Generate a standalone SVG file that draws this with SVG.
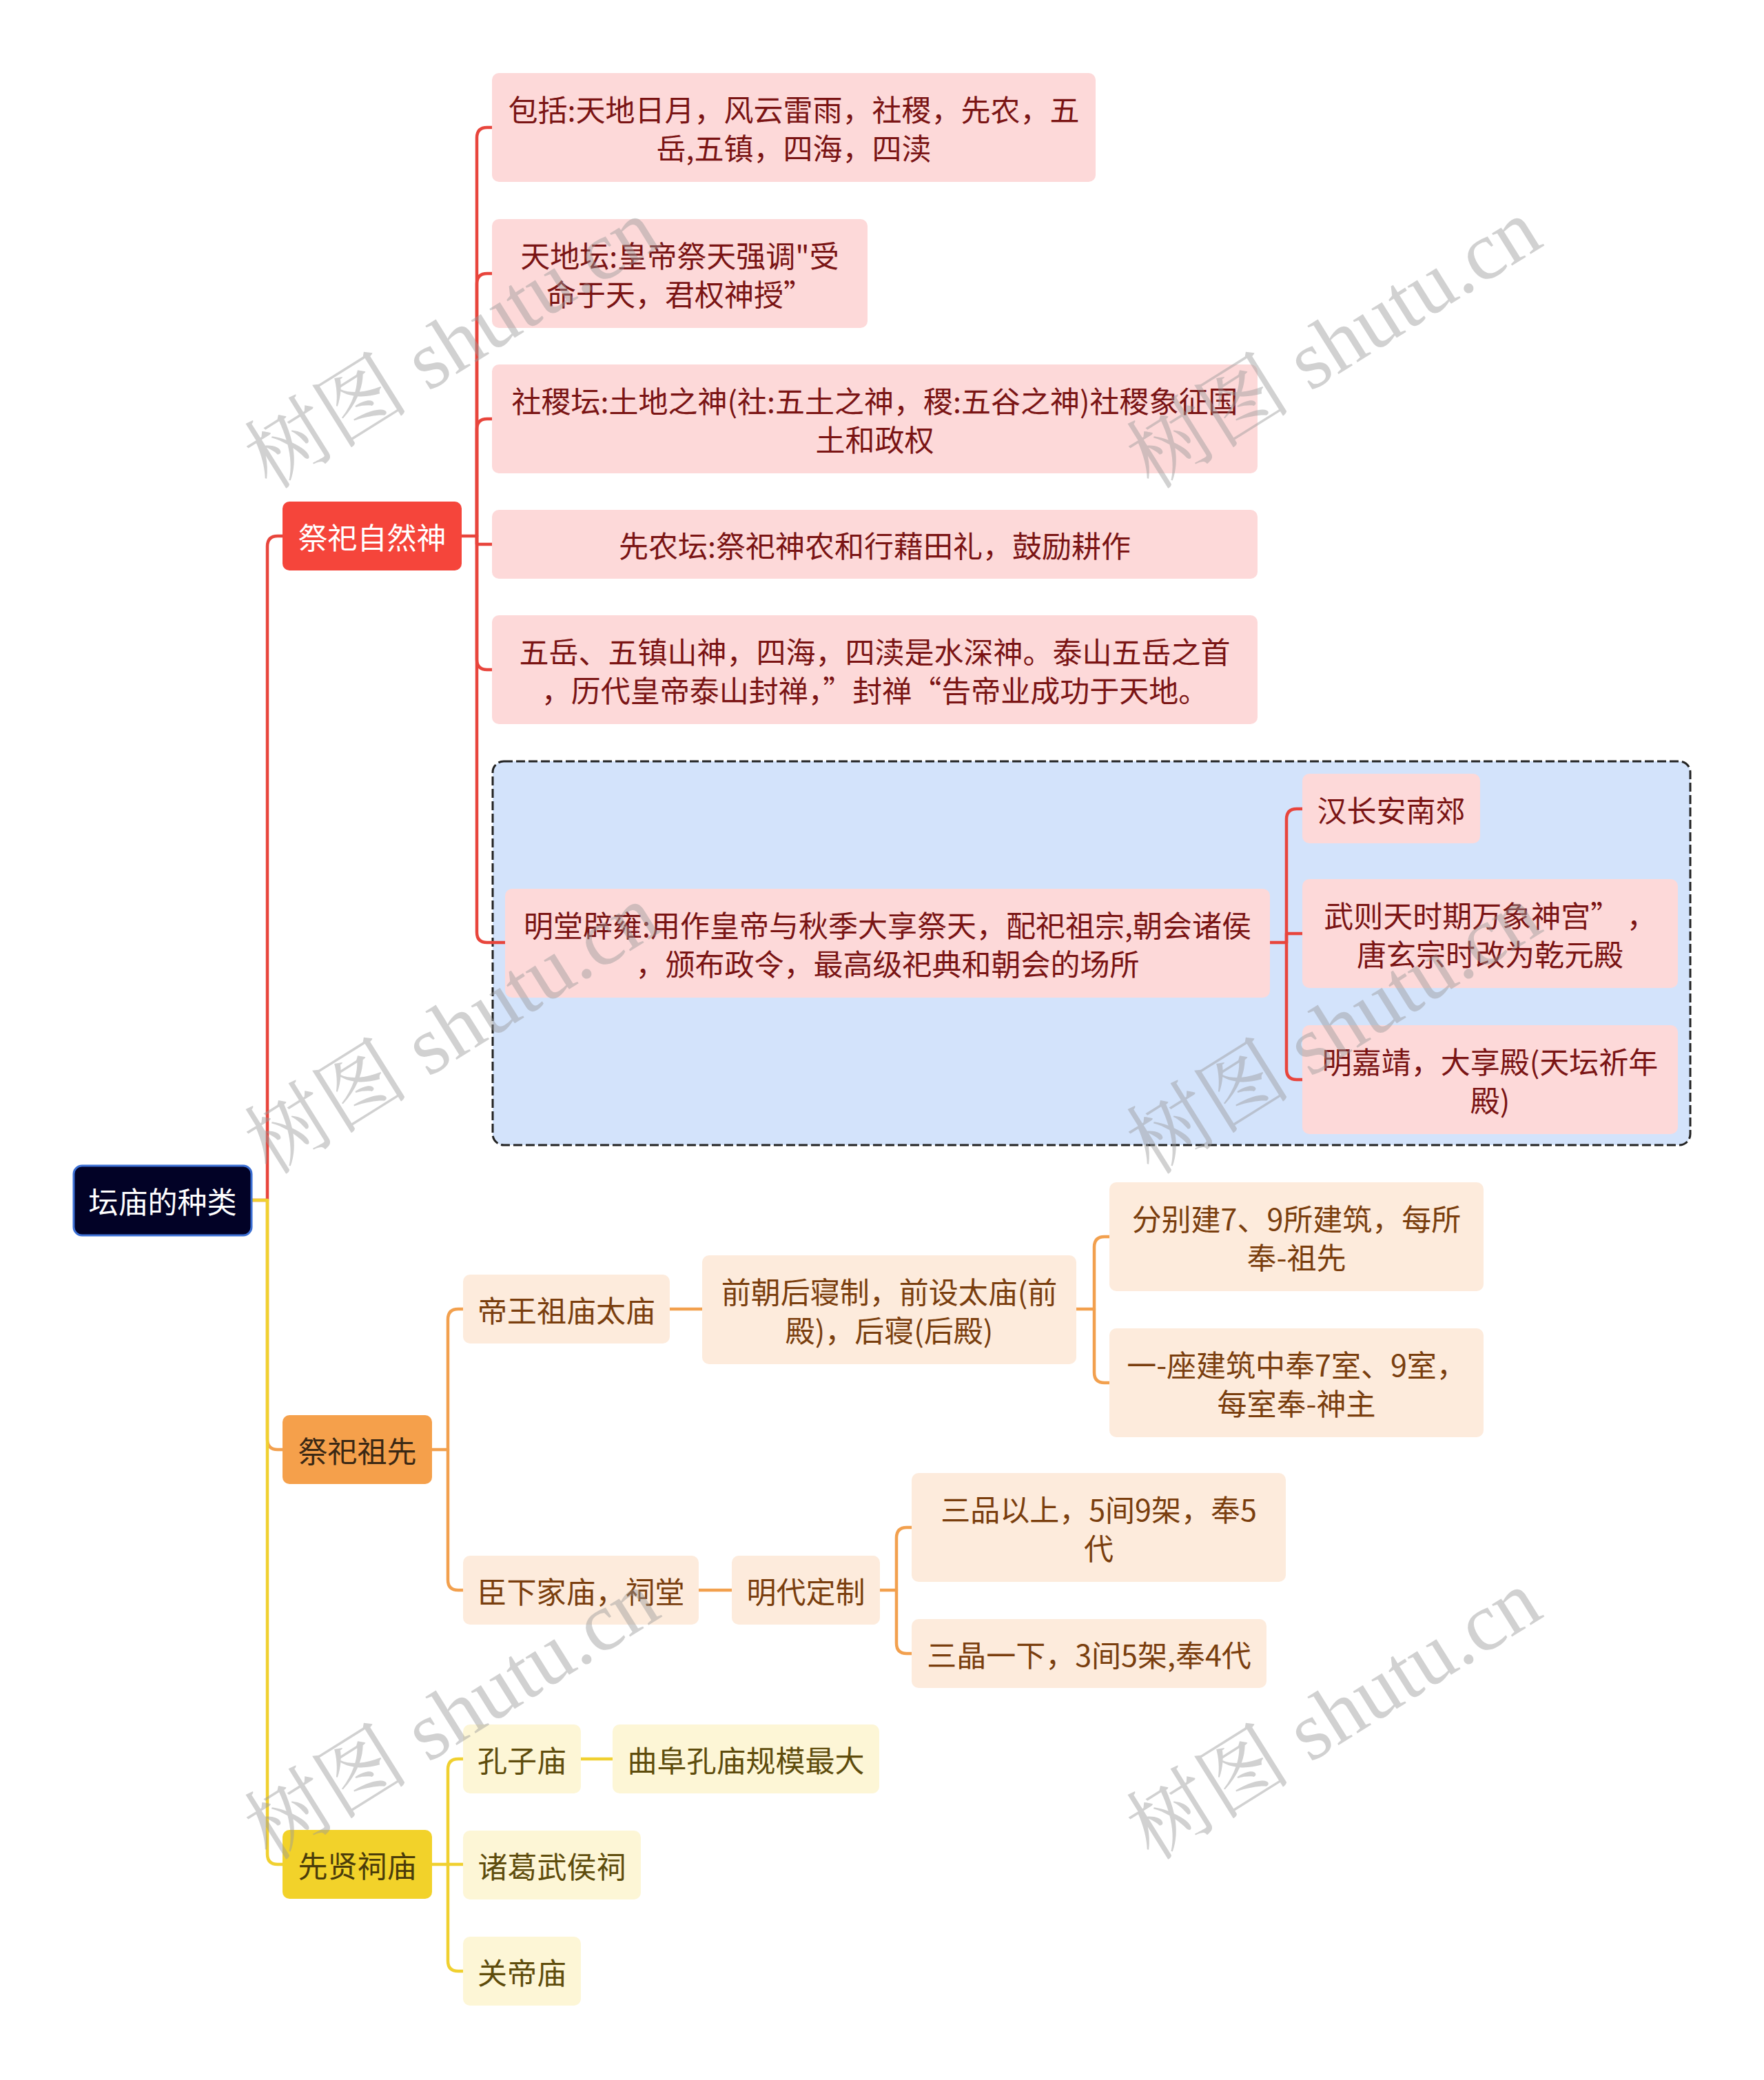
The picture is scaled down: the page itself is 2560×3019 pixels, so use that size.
<svg xmlns="http://www.w3.org/2000/svg" width="2560" height="3019" viewBox="0 0 2560 3019">
<style>
.t{font-family:"Noto Sans CJK SC","Noto Sans",sans-serif;font-size:43px;text-anchor:middle;dominant-baseline:central}
.c{fill:none;stroke-width:4.5;stroke-linecap:round;stroke-linejoin:round}
.cr{stroke:#e8453c}.co{stroke:#f2a04e}.cy{stroke:#f0d030}
.pk{fill:#fdd9d9}.pkt{fill:#7a1414}
.pe{fill:#fdebdc}.pet{fill:#7a3e0e}
.ly{fill:#fdf6d6}.lyt{fill:#5e4c0c}
.wm{font-family:"Liberation Serif","Noto Serif CJK SC","Noto Sans CJK SC",serif;font-size:120px;fill:#9a9a9a;opacity:0.45}
</style>
<rect width="2560" height="3019" fill="#ffffff"/>
<g id="group-box">
<rect x="715" y="1105" width="1738" height="557" rx="16" fill="#d3e3fb" stroke="#222" stroke-width="3" stroke-dasharray="13 5"/>
</g>
<g id="connectors">
<path class="c cr" d="M365,1742 H388 V793 Q388,778 403,778 H410"/>
<path class="c co" d="M388,1742 V2089 Q388,2104 403,2104 H410"/>
<path class="c cy" d="M365,1742 H388 V2691 Q388,2706 403,2706 H410"/>
<path class="c cr" d="M670,778 H692 V200 Q692,185 707,185 H714"/>
<path class="c cr" d="M692,778 V412 Q692,397 707,397 H714"/>
<path class="c cr" d="M692,778 V623 Q692,608 707,608 H714"/>
<path class="c cr" d="M692,778 V790 H714"/>
<path class="c cr" d="M692,778 V957 Q692,972 707,972 H714"/>
<path class="c cr" d="M692,778 V1353 Q692,1368 707,1368 H733"/>
<path class="c cr" d="M1843,1368 H1867 V1189 Q1867,1174 1882,1174 H1890"/>
<path class="c cr" d="M1867,1368 V1355 H1890"/>
<path class="c cr" d="M1867,1368 V1552 Q1867,1567 1882,1567 H1890"/>
<path class="c co" d="M627,2104 H650 V1915 Q650,1900 665,1900 H672"/>
<path class="c co" d="M650,2104 V2293 Q650,2308 665,2308 H672"/>
<path class="c co" d="M972,1900 H1019"/>
<path class="c co" d="M1562,1900 H1588 V1810 Q1588,1795 1603,1795 H1610"/>
<path class="c co" d="M1588,1900 V1992 Q1588,2007 1603,2007 H1610"/>
<path class="c co" d="M1014,2308 H1062"/>
<path class="c co" d="M1277,2308 H1301 V2232 Q1301,2217 1316,2217 H1323"/>
<path class="c co" d="M1301,2308 V2385 Q1301,2400 1316,2400 H1323"/>
<path class="c cy" d="M627,2706 H650 V2568 Q650,2553 665,2553 H672"/>
<path class="c cy" d="M650,2706 H672"/>
<path class="c cy" d="M650,2706 V2846 Q650,2861 665,2861 H672"/>
<path class="c cy" d="M843,2553 H889"/>
</g>
<g id="root">
<rect x="107" y="1692" width="258" height="101" rx="12" fill="#020226" stroke="#3b6fd4" stroke-width="3"/>
<text class="t" x="236" y="1742" fill="#ffffff">坛庙的种类</text>
</g>
<g id="n-ziran">
<rect x="410" y="728" width="260" height="100" rx="10" fill="#f5453b"/>
<text class="t" x="540" y="778" fill="#ffffff">祭祀自然神</text>
</g>
<g id="n-zuxian">
<rect x="410" y="2054" width="217" height="100" rx="10" fill="#f5a04b"/>
<text class="t" x="518.5" y="2104" fill="#3a2814">祭祀祖先</text>
</g>
<g id="n-xianxian">
<rect x="410" y="2656" width="217" height="100" rx="10" fill="#f2d22a"/>
<text class="t" x="518.5" y="2706" fill="#4a3c0a">先贤祠庙</text>
</g>
<g id="a">
<rect class="pk" x="714" y="106" width="876" height="158" rx="10"/>
<text class="t pkt" x="1152" y="157">包括:天地日月，风云雷雨，社稷，先农，五</text>
<text class="t pkt" x="1152" y="213">岳,五镇，四海，四渎</text>
</g>
<g id="b">
<rect class="pk" x="714" y="318" width="545" height="158" rx="10"/>
<text class="t pkt" x="986.5" y="369">天地坛:皇帝祭天强调"受</text>
<text class="t pkt" x="986.5" y="425">命于天，君权神授”</text>
</g>
<g id="c">
<rect class="pk" x="714" y="529" width="1111" height="158" rx="10"/>
<text class="t pkt" x="1269.5" y="580">社稷坛:土地之神(社:五土之神，稷:五谷之神)社稷象征国</text>
<text class="t pkt" x="1269.5" y="636">土和政权</text>
</g>
<g id="d">
<rect class="pk" x="714" y="740" width="1111" height="100" rx="10"/>
<text class="t pkt" x="1269.5" y="790">先农坛:祭祀神农和行藉田礼，鼓励耕作</text>
</g>
<g id="e">
<rect class="pk" x="714" y="893" width="1111" height="158" rx="10"/>
<text class="t pkt" x="1269.5" y="944">五岳、五镇山神，四海，四渎是水深神。泰山五岳之首</text>
<text class="t pkt" x="1269.5" y="1000">，历代皇帝泰山封禅，”封禅“告帝业成功于天地。</text>
</g>
<g id="mingtang">
<rect class="pk" x="733" y="1290" width="1110" height="158" rx="10"/>
<text class="t pkt" x="1288" y="1341">明堂辟雍:用作皇帝与秋季大享祭天，配祀祖宗,朝会诸侯</text>
<text class="t pkt" x="1288" y="1397">，颁布政令，最高级祀典和朝会的场所</text>
</g>
<g id="m1">
<rect class="pk" x="1890" y="1123" width="258" height="101" rx="10"/>
<text class="t pkt" x="2019" y="1174">汉长安南郊</text>
</g>
<g id="m2">
<rect class="pk" x="1890" y="1276" width="545" height="158" rx="10"/>
<text class="t pkt" x="2162.5" y="1327">武则天时期万象神宫” ，</text>
<text class="t pkt" x="2162.5" y="1383">唐玄宗时改为乾元殿</text>
</g>
<g id="m3">
<rect class="pk" x="1890" y="1488" width="545" height="158" rx="10"/>
<text class="t pkt" x="2162.5" y="1539">明嘉靖，大享殿(天坛祈年</text>
<text class="t pkt" x="2162.5" y="1595">殿)</text>
</g>
<g id="p1">
<rect class="pe" x="672" y="1850" width="300" height="100" rx="10"/>
<text class="t pet" x="822" y="1900">帝王祖庙太庙</text>
</g>
<g id="p2">
<rect class="pe" x="1019" y="1822" width="543" height="158" rx="10"/>
<text class="t pet" x="1290.5" y="1873">前朝后寝制，前设太庙(前</text>
<text class="t pet" x="1290.5" y="1929">殿)，后寝(后殿)</text>
</g>
<g id="p3">
<rect class="pe" x="1610" y="1716" width="543" height="158" rx="10"/>
<text class="t pet" x="1881.5" y="1767">分别建7、9所建筑，每所</text>
<text class="t pet" x="1881.5" y="1823">奉-祖先</text>
</g>
<g id="p4">
<rect class="pe" x="1610" y="1928" width="543" height="158" rx="10"/>
<text class="t pet" x="1881.5" y="1979">一-座建筑中奉7室、9室，</text>
<text class="t pet" x="1881.5" y="2035">每室奉-神主</text>
</g>
<g id="p5">
<rect class="pe" x="672" y="2258" width="342" height="100" rx="10"/>
<text class="t pet" x="843" y="2308">臣下家庙，祠堂</text>
</g>
<g id="p6">
<rect class="pe" x="1062" y="2258" width="215" height="100" rx="10"/>
<text class="t pet" x="1169.5" y="2308">明代定制</text>
</g>
<g id="p7">
<rect class="pe" x="1323" y="2138" width="543" height="158" rx="10"/>
<text class="t pet" x="1594.5" y="2189">三品以上，5间9架，奉5</text>
<text class="t pet" x="1594.5" y="2245">代</text>
</g>
<g id="p8">
<rect class="pe" x="1323" y="2350" width="515" height="100" rx="10"/>
<text class="t pet" x="1580.5" y="2400">三晶一下，3间5架,奉4代</text>
</g>
<g id="y1">
<rect class="ly" x="672" y="2503" width="171" height="100" rx="10"/>
<text class="t lyt" x="757.5" y="2553">孔子庙</text>
</g>
<g id="y2">
<rect class="ly" x="889" y="2503" width="387" height="100" rx="10"/>
<text class="t lyt" x="1082.5" y="2553">曲阜孔庙规模最大</text>
</g>
<g id="y3">
<rect class="ly" x="672" y="2657" width="258" height="100" rx="10"/>
<text class="t lyt" x="801" y="2707">诸葛武侯祠</text>
</g>
<g id="y4">
<rect class="ly" x="672" y="2811" width="171" height="100" rx="10"/>
<text class="t lyt" x="757.5" y="2861">关帝庙</text>
</g>
<g id="watermarks">
<text class="wm" transform="translate(392,712) rotate(-32)">树图 shutu.cn</text>
<text class="wm" transform="translate(1672,712) rotate(-32)">树图 shutu.cn</text>
<text class="wm" transform="translate(392,1707) rotate(-32)">树图 shutu.cn</text>
<text class="wm" transform="translate(1672,1707) rotate(-32)">树图 shutu.cn</text>
<text class="wm" transform="translate(392,2702) rotate(-32)">树图 shutu.cn</text>
<text class="wm" transform="translate(1672,2702) rotate(-32)">树图 shutu.cn</text>
</g>
</svg>
